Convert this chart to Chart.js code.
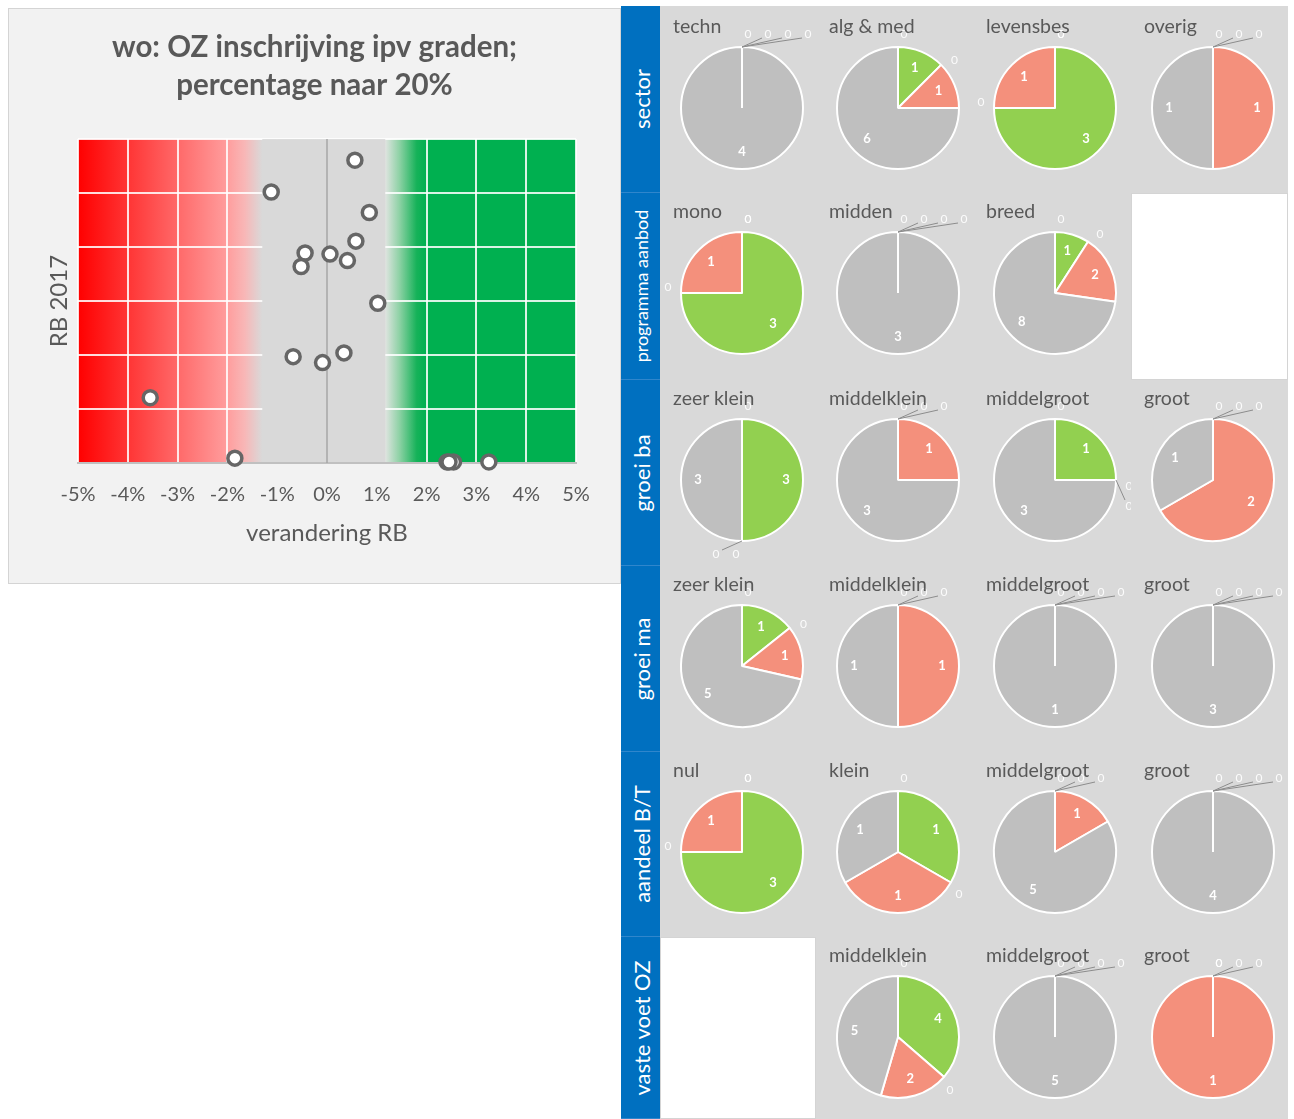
<!DOCTYPE html>
<html><head><meta charset="utf-8">
<script src="https://cdn.jsdelivr.net/npm/chart.js@4.4.1/dist/chart.umd.min.js"></script>
<style>
body{margin:0;background:#fff;width:1294px;height:1119px;position:relative;overflow:hidden;font-family:Lato,"Open Sans",sans-serif;}
#sbox{position:absolute;left:8px;top:8px;width:611px;height:574px;background:#f2f2f2;border:1px solid #d4d4d4;}
#sbox canvas{position:absolute;left:0;top:0;}
.band{position:absolute;left:621px;width:39px;background:#0070c0;border-bottom:1px solid #2f86cc;box-sizing:border-box;}
.band span{position:absolute;left:50%;top:50%;transform:translate(-50%,-50%) rotate(-90deg);white-space:nowrap;color:#fff;font-size:22px;}
.cell{position:absolute;background:#d9d9d9;}
.cell canvas{position:absolute;left:0;top:0;}
.cell .t{position:absolute;left:13px;top:7px;color:#595959;font-size:19.5px;white-space:nowrap;}
.blank{position:absolute;background:#fff;border:1px solid #d4d4d4;box-sizing:border-box;}
</style>
</head><body>
<div id="sbox"><canvas id="scatter" width="611" height="574"></canvas></div>
<div id="panel"></div>
<script>
// ---------- scatter data ----------
const scatterTitle = ['wo: OZ inschrijving ipv graden;', 'percentage naar 20%'];
const xAxisTitle = 'verandering RB';
const yAxisTitle = 'RB 2017';
const xTickValues = [-5, -4, -3, -2, -1, 0, 1, 2, 3, 4, 5];
const xTickLabels = ['-5%', '-4%', '-3%', '-2%', '-1%', '0%', '1%', '2%', '3%', '4%', '5%'];
const changeRB = [0.56, -1.12, 0.85, 0.58, -0.44, 0.06, -0.52, 0.41, 1.02, -0.68, -0.09, 0.34, -3.55, -1.85, 2.41, 2.54, 3.25, 2.45];
const rb2017   = [5.61, 5.02, 4.64, 4.11, 3.89, 3.87, 3.64, 3.75, 2.96, 1.97, 1.86, 2.04, 1.21, 0.09, 0.02, 0.02, 0.02, 0.02];

// ---------- pie data: [a, stijging, b, daling, neutraal] ----------
const sliceLabels = ['a', 'stijging', 'b', 'daling', 'neutraal'];
const rowLabels = ['sector', 'programma aanbod', 'groei ba', 'groei ma', 'aandeel B/T', 'vaste voet OZ'];
const sectorTitles = ['techn', 'alg & med', 'levensbes', 'overig'];
const sectorVals   = [[0,0,0,0,4], [0,1,0,1,6], [0,3,0,1,0], [0,0,0,1,1]];
const programmaTitles = ['mono', 'midden', 'breed', null];
const programmaVals   = [[0,3,0,1,0], [0,0,0,0,3], [0,1,0,2,8], null];
const groeiBaTitles = ['zeer klein', 'middelklein', 'middelgroot', 'groot'];
const groeiBaVals   = [[0,3,0,0,3], [0,0,0,1,3], [0,1,0,0,3], [0,0,0,2,1]];
const groeiMaTitles = ['zeer klein', 'middelklein', 'middelgroot', 'groot'];
const groeiMaVals   = [[0,1,0,1,5], [0,0,0,1,1], [0,0,0,0,1], [0,0,0,0,3]];
const aandeelTitles = ['nul', 'klein', 'middelgroot', 'groot'];
const aandeelVals   = [[0,3,0,1,0], [0,1,0,1,1], [0,0,0,1,5], [0,0,0,0,4]];
const vasteVoetTitles = [null, 'middelklein', 'middelgroot', 'groot'];
const vasteVoetVals   = [null, [0,4,0,2,5], [0,0,0,0,5], [0,0,0,1,0]];

const rowTitles = [sectorTitles, programmaTitles, groeiBaTitles, groeiMaTitles, aandeelTitles, vasteVoetTitles];
const rowVals = [sectorVals, programmaVals, groeiBaVals, groeiMaVals, aandeelVals, vasteVoetVals];

// ---------- styles ----------
const FONT = 'Lato, "Open Sans", sans-serif';
const TXT = '#595959';
const sliceColors = ['#00b050', '#92d050', '#f8cbad', '#f4907c', '#bfbfbf'];
const rowTops = [8, 193, 380, 566, 752, 937, 1119];
const colLefts = [660, 816, 973, 1131, 1288];

// ---------- scatter chart ----------
const bands = {
  id: 'bands',
  beforeDraw(chart) {
    const {ctx, chartArea: a, scales: {x}} = chart;
    const s = v => Math.min(1, Math.max(0, (x.getPixelForValue(v) - a.left) / (a.right - a.left)));
    const g = ctx.createLinearGradient(a.left, 0, a.right, 0);
    g.addColorStop(0, '#ff0000');
    g.addColorStop(s(-2), '#ff9d9d');
    g.addColorStop(s(-1.65), '#f8b7b7');
    g.addColorStop(s(-1.3), '#d9d9d9');
    g.addColorStop(s(1.17), '#dfe4e0');
    g.addColorStop(s(1.45), '#8fd2a6');
    g.addColorStop(s(1.8), '#16b259');
    g.addColorStop(s(2.0), '#00b050');
    g.addColorStop(1, '#00b050');
    ctx.save(); ctx.fillStyle = g;
    ctx.fillRect(a.left, a.top, a.right - a.left, a.bottom - a.top);
    ctx.restore();
  },
  beforeDatasetsDraw(chart) {
    const {ctx, chartArea: a, scales: {x}} = chart;
    const l = x.getPixelForValue(-1.3), r = x.getPixelForValue(1.17);
    ctx.save();
    ctx.fillStyle = '#d9d9d9';
    ctx.fillRect(l, a.top, r - l, a.bottom - a.top - 1);
    const z = x.getPixelForValue(0);
    ctx.strokeStyle = '#a6a6a6'; ctx.lineWidth = 1.5;
    ctx.beginPath(); ctx.moveTo(z, a.top); ctx.lineTo(z, a.bottom); ctx.stroke();
    ctx.restore();
  }
};

new Chart(document.getElementById('scatter'), {
  type: 'scatter',
  data: { datasets: [{
    data: changeRB.map((v, i) => ({x: v, y: rb2017[i]})),
    backgroundColor: '#ffffff', borderColor: '#666666', borderWidth: 3.5,
    pointRadius: 7, clip: false
  }]},
  options: {
    responsive: false, animation: false, events: [],
    layout: {padding: 0},
    plugins: {
      legend: {display: false}, tooltip: {enabled: false},
      title: {display: true, text: scatterTitle, color: TXT,
        font: {family: FONT, size: 29.5, weight: 'bold', lineHeight: 1.29},
        padding: {top: 19, bottom: 35}}
    },
    scales: {
      x: {type: 'linear', min: -5, max: 5,
        afterBuildTicks: sc => { sc.ticks = xTickValues.map(v => ({value: v})); },
        afterFit: sc => { sc.height = 120; },
        grid: {color: 'rgba(255,255,255,0.85)', lineWidth: 2, drawTicks: false},
        border: {display: true, color: '#c0c0c0', width: 2},
        ticks: {color: TXT, font: {family: FONT, size: 20}, padding: 20,
          callback: v => xTickLabels[xTickValues.indexOf(v)]},
        title: {display: true, text: xAxisTitle, color: TXT, font: {family: FONT, size: 24}, padding: {top: 0, bottom: 35}}
      },
      y: {type: 'linear', min: 0, max: 6,
        ticks: {display: false, stepSize: 1},
        afterFit: sc => { sc.width = 69; },
        grid: {color: 'rgba(255,255,255,0.85)', lineWidth: 2, drawTicks: false},
        border: {display: false},
        title: {display: true, text: yAxisTitle, color: TXT, font: {family: FONT, size: 24}, padding: {top: 36, bottom: 0}}
      },
      yRight: {type: 'linear', position: 'right', min: 0, max: 6,
        afterFit: sc => { sc.width = 44; },
        ticks: {display: false}, grid: {display: false}, border: {display: false}
      }
    }
  },
  plugins: [bands]
});

// ---------- pie labels plugin ----------
const pieLabels = {
  id: 'pieLabels',
  afterDatasetsDraw(chart) {
    const ctx = chart.ctx;
    const meta = chart.getDatasetMeta(0);
    const vals = chart.data.datasets[0].data;
    const seen = {};
    ctx.save();
    ctx.textAlign = 'center'; ctx.textBaseline = 'middle';
    meta.data.forEach((arc, i) => {
      const p = arc.getProps(['x', 'y', 'startAngle', 'endAngle', 'outerRadius'], true);
      const mid = (p.startAngle + p.endAngle) / 2;
      const c = Math.cos(mid), s = Math.sin(mid);
      if (vals[i] > 0) {
        ctx.fillStyle = '#ffffff';
        ctx.font = 'bold 13px ' + FONT;
        ctx.fillText(String(vals[i]), p.x + c * p.outerRadius * 0.72, p.y + s * p.outerRadius * 0.72);
      } else {
        const key = mid.toFixed(2);
        const k = seen[key] || 0; seen[key] = k + 1;
        const ax = p.x + c * p.outerRadius, ay = p.y + s * p.outerRadius;
        const px = -s, py = c; // perpendicular (clockwise)
        const lx = ax + c * 13 + px * (6 + 20 * k), ly = ay + s * 13 + py * (6 + 20 * k);
        if (k > 0) {
          ctx.strokeStyle = '#8c8c8c'; ctx.lineWidth = 1;
          ctx.beginPath(); ctx.moveTo(ax, ay); ctx.lineTo(lx - px * 6 - c * 4, ly - py * 6 - s * 4); ctx.stroke();
        }
        ctx.fillStyle = 'rgba(255,255,255,0.9)';
        ctx.font = '12px ' + FONT;
        ctx.fillText('0', lx, ly);
      }
    });
    ctx.restore();
  }
};

// ---------- panel ----------
const panel = document.getElementById('panel');
rowLabels.forEach((lab, r) => {
  const b = document.createElement('div');
  b.className = 'band';
  b.style.top = (r === 0 ? 6 : rowTops[r]) + 'px';
  b.style.height = (rowTops[r + 1] - (r === 0 ? 6 : rowTops[r])) + 'px';
  const sp = document.createElement('span');
  sp.textContent = lab;
  if (lab.length > 14) sp.style.fontSize = '18px';
  b.appendChild(sp);
  panel.appendChild(b);
  for (let c = 0; c < 4; c++) {
    const top = r === 0 ? 6 : rowTops[r];
    const h = rowTops[r + 1] - top;
    const w = colLefts[c + 1] - colLefts[c];
    const vals = rowVals[r][c];
    const div = document.createElement('div');
    div.style.left = colLefts[c] + 'px'; div.style.top = top + 'px';
    div.style.width = w + 'px'; div.style.height = h + 'px';
    if (!vals) { div.className = 'blank'; panel.appendChild(div); continue; }
    div.className = 'cell';
    const cv = document.createElement('canvas');
    cv.width = w; cv.height = h;
    div.appendChild(cv);
    const t = document.createElement('div');
    t.className = 't'; t.textContent = rowTitles[r][c];
    t.style.top = (rowTops[r] - top + 6) + 'px';
    div.appendChild(t);
    panel.appendChild(div);
    const cyOff = rowTops[r] - top + 38;
    new Chart(cv, {
      type: 'pie',
      data: {labels: sliceLabels, datasets: [{data: vals, backgroundColor: sliceColors, borderColor: '#ffffff', borderWidth: 2}]},
      options: {
        responsive: false, animation: false, events: [],
        layout: {padding: {left: 20, top: cyOff, right: w - 20 - 124, bottom: h - cyOff - 124}},
        plugins: {legend: {display: false}, tooltip: {enabled: false}, title: {display: false}}
      },
      plugins: [pieLabels]
    });
  }
});
</script>
</body></html>
